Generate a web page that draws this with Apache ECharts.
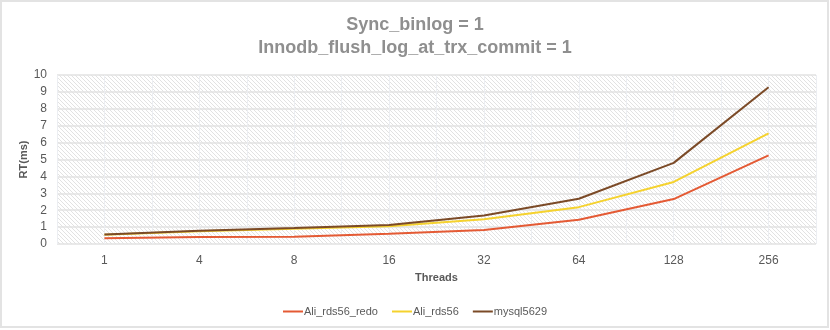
<!DOCTYPE html>
<html>
<head>
<meta charset="utf-8">
<script src="https://cdn.jsdelivr.net/npm/echarts@6/dist/echarts.min.js"></script>
<style>
html,body{margin:0;padding:0;background:#fff;}
#c{width:830px;height:330px;}
</style>
</head>
<body>
<div id="c"></div>
<script>
const titleLines = ['Sync_binlog = 1', 'Innodb_flush_log_at_trx_commit = 1'];
const categories = ['1', '4', '8', '16', '32', '64', '128', '256'];
const seriesNames = ['Ali_rds56_redo', 'Ali_rds56', 'mysql5629'];
const aliRds56Redo = [0.34, 0.42, 0.43, 0.6, 0.83, 1.43, 2.66, 5.24];
const aliRds56 = [0.55, 0.75, 0.9, 1.05, 1.47, 2.18, 3.67, 6.55];
const mysql5629 = [0.56, 0.78, 0.95, 1.13, 1.69, 2.68, 4.8, 9.27];
const yTicks = [0, 1, 2, 3, 4, 5, 6, 7, 8, 9, 10];

function hatch() {
  const s = 4;
  const cv = document.createElement('canvas');
  cv.width = s; cv.height = s;
  const ctx = cv.getContext('2d');
  ctx.fillStyle = '#ffffff';
  ctx.fillRect(0, 0, s, s);
  ctx.strokeStyle = '#e2e2e2';
  ctx.lineWidth = 1;
  ctx.beginPath();
  ctx.moveTo(-1, -1); ctx.lineTo(s + 1, s + 1);
  ctx.moveTo(-1, s - 1); ctx.lineTo(1, s + 1);
  ctx.moveTo(s - 1, -1); ctx.lineTo(s + 1, 1);
  ctx.stroke();
  return cv;
}

const colors = ['#E45A34', '#F5D22E', '#7B4A27'];
const dataSets = [aliRds56Redo, aliRds56, mysql5629];
const labelColor = '#595959';
const font = 'Liberation Sans';

const chart = echarts.init(document.getElementById('c'), null, {renderer: 'canvas'});
chart.setOption({
  animation: false,
  backgroundColor: '#ffffff',
  textStyle: {fontFamily: font},
  graphic: [{
    type: 'rect', silent: true, z: -10,
    shape: {x: 1, y: 1, width: 827, height: 326},
    style: {fill: 'none', stroke: '#e3e3e3', lineWidth: 2}
  }],
  title: {
    text: titleLines.join('\n'),
    left: 'center', top: 9,
    textStyle: {fontFamily: font, fontSize: 18, fontWeight: 'bold', color: '#8f8f8f', lineHeight: 23}
  },
  legend: {
    bottom: 8, left: 'center',
    itemWidth: 20, itemHeight: 2, itemGap: 14,
    icon: 'rect',
    textStyle: {fontFamily: font, fontSize: 11, color: labelColor, padding: [0, 0, 0, -4]},
    data: seriesNames
  },
  grid: {
    left: 57, right: 14, top: 75, bottom: 86,
    show: true, borderWidth: 0,
    backgroundColor: {image: hatch(), repeat: 'repeat'}
  },
  xAxis: [{
    type: 'category', data: categories, boundaryGap: true,
    name: 'Threads', nameLocation: 'middle', nameGap: 28,
    nameTextStyle: {fontFamily: font, fontSize: 11, fontWeight: 'bold', color: labelColor},
    axisLine: {show: false}, axisTick: {show: false},
    axisLabel: {color: labelColor, fontSize: 12, margin: 11},
    splitLine: {show: false}
  }, {
    type: 'value', min: 0, max: 16, interval: 1, show: true,
    position: 'bottom',
    axisLine: {show: false}, axisTick: {show: false}, axisLabel: {show: false},
    splitLine: {show: true, lineStyle: {color: '#eceef2', width: 1}}
  }],
  yAxis: {
    type: 'value', min: yTicks[0], max: yTicks[yTicks.length - 1], interval: 1,
    name: 'RT(ms)', nameLocation: 'middle', nameGap: 28, nameMoveOverlap: false,
    nameTextStyle: {fontFamily: font, fontSize: 11, fontWeight: 'bold', color: labelColor},
    axisLine: {show: false}, axisTick: {show: false},
    axisLabel: {color: labelColor, fontSize: 12, margin: 10},
    splitLine: {show: true, lineStyle: {color: '#e2e2e2', width: 1.5}}
  },
  series: seriesNames.map((n, i) => ({
    name: n, type: 'line', xAxisIndex: 0, data: dataSets[i],
    symbol: 'none', smooth: false,
    lineStyle: {color: colors[i], width: 2},
    itemStyle: {color: colors[i]},
    z: 3 + i
  }))
});
</script>
</body>
</html>
